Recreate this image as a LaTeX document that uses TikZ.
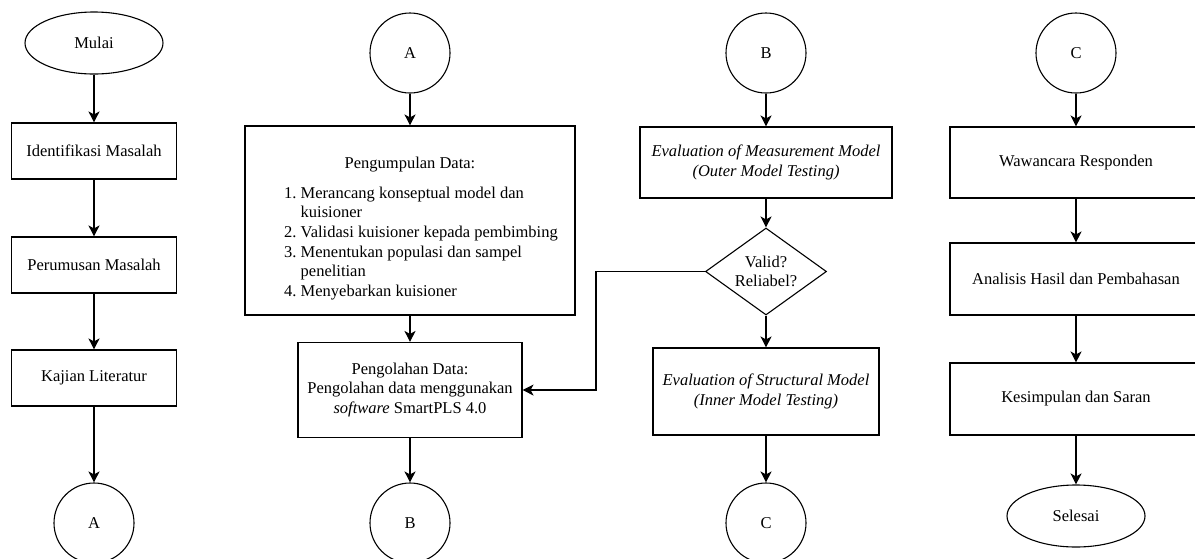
\documentclass[tikz,border=0pt]{standalone}
\usepackage{fontspec}
\setmainfont{Liberation Serif}
\usetikzlibrary{shapes.geometric,arrows.meta}

\tikzset{
  box/.style={draw, line width=1.1pt, rectangle, inner sep=0pt, align=center},
  term/.style={draw, line width=1.1pt, ellipse, minimum width=138pt, minimum height=62pt, inner sep=0pt},
  conn/.style={draw, line width=1.1pt, circle, minimum size=80pt, inner sep=0pt},
  dec/.style={draw, line width=1.1pt, diamond, aspect=1.4, minimum width=121pt, minimum height=87pt, inner sep=0pt, align=center},
  arr/.style={-{Stealth[length=11pt,width=11pt,inset=3pt]}, line width=1.1pt}
}

\begin{document}
\begin{tikzpicture}[x=1pt, y=-1pt, font=\fontsize{16.5}{19.7}\selectfont]
\useasboundingbox (0,0) rectangle (1195,558);

% kolom 1
\node[term] (mulai) at (94,43) {Mulai};
\node[box, minimum width=165pt, minimum height=56pt] (idm) at (94,151) {Identifikasi Masalah};
\node[box, minimum width=165pt, minimum height=56pt] (rumus) at (94,265) {Perumusan Masalah};
\node[box, minimum width=165pt, minimum height=56pt] (kajian) at (94,378) {Kajian Literatur};
\node[conn] (ka) at (94,523) {A};

% kolom 2
\node[conn] (ma) at (410,53) {A};
\node[box, minimum width=330pt, minimum height=189pt] (kumpul) at (410,220.5) {\mbox{}\\[10pt]
  Pengumpulan Data:\\[10pt]
  \hspace*{22pt}\begin{tabular}[t]{@{}r@{\ }l@{}}
  1. & Merancang konseptual model dan\\
     & kuisioner\\
  2. & Validasi kuisioner kepada pembimbing\\
  3. & Menentukan populasi dan sampel\\
     & penelitian\\
  4. & Menyebarkan kuisioner
  \end{tabular}};
\node[box, minimum width=224pt, minimum height=95pt] (olah) at (410,390) {Pengolahan Data:\\Pengolahan data menggunakan\\\textit{software} SmartPLS 4.0};
\node[conn] (kb) at (410,523) {B};

% kolom 3
\node[conn] (mb) at (766,53) {B};
\node[box, minimum width=252pt, minimum height=71pt] (ukur) at (766,162.5) {\textit{Evaluation of Measurement Model}\\\textit{(Outer Model Testing)}};
\node[dec] (valid) at (766,271.5) {Valid?\\Reliabel?};
\node[box, minimum width=226pt, minimum height=87pt] (struktur) at (766,391.5) {\textit{Evaluation of Structural Model}\\\textit{(Inner Model Testing)}};
\node[conn] (kc) at (766,523) {C};
\coordinate (belok) at (596,271.5);

% kolom 4
\node[conn] (mc) at (1076,53) {C};
\node[box, minimum width=252pt, minimum height=71pt] (wawan) at (1076,162.5) {Wawancara Responden};
\node[box, minimum width=252pt, minimum height=72pt] (analisis) at (1076,279) {Analisis Hasil dan Pembahasan};
\node[box, minimum width=252pt, minimum height=72pt] (simpul) at (1076,399) {Kesimpulan dan Saran};
\node[term] (selesai) at (1076,516) {Selesai};

\foreach \a/\b in {mulai/idm, idm/rumus, rumus/kajian, kajian/ka,
                   ma/kumpul, kumpul/olah, olah/kb,
                   mb/ukur, ukur/valid, valid/struktur, struktur/kc,
                   mc/wawan, wawan/analisis, analisis/simpul, simpul/selesai}
  \draw[arr] (\a) -- (\b);
\draw[arr] (valid.west) -- (belok) |- (olah.east);
\end{tikzpicture}
\end{document}
